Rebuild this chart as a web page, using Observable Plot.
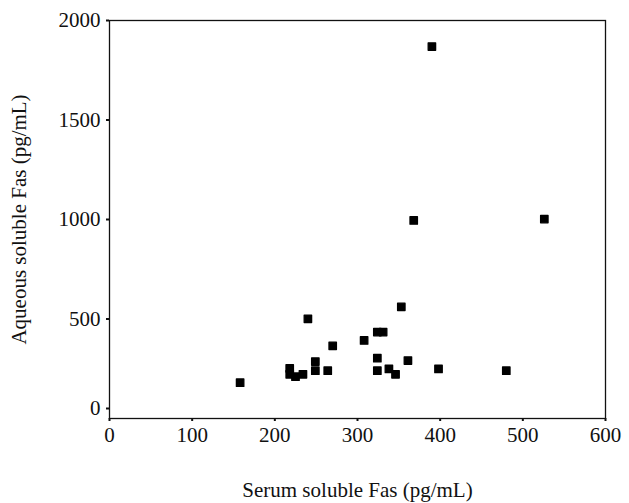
<!DOCTYPE html>
<html>
<head>
<meta charset="utf-8">
<script src="https://cdn.jsdelivr.net/npm/d3@7"></script>
<script src="https://cdn.jsdelivr.net/npm/@observablehq/plot@0.6"></script>
<style>
  html, body { margin: 0; padding: 0; background: #fff; }
  svg { display: block; }
</style>
</head>
<body>
<div id="chart"></div>
<script>
const serumFas = [158, 218, 218, 225, 234, 240, 249, 249, 264, 270, 308, 324, 331, 324, 324, 338, 346, 353, 361, 368, 390, 398, 480, 526];
const aqueousFas = [180, 252, 222, 210, 222, 501, 286, 240, 240, 365, 392, 434, 434, 303, 240, 249, 222, 561, 291, 995, 1869, 249, 240, 1002];
const xTicks = [0, 100, 200, 300, 400, 500, 600];
const yTicks = [0, 500, 1000, 1500, 2000];

const data = serumFas.map((x, i) => ({x, y: aqueousFas[i]}));
const font = "Liberation Serif, Times New Roman, serif";
const fmt = d => String(d);

const chart = Plot.plot({
  width: 629,
  height: 503,
  marginLeft: 109,
  marginRight: 24,
  marginTop: 20,
  marginBottom: 85,
  style: {fontFamily: font, fontSize: "21px", color: "#111", background: "#fff"},
  x: {domain: [0, 600]},
  y: {domain: [0, 2000]},
  marks: [
    Plot.frame({stroke: "#111", strokeWidth: 1.3}),
    Plot.axisX(xTicks, {tickSize: 3, tickPadding: 6, strokeWidth: 2, fontSize: 21, tickFormat: fmt, label: "Serum soluble Fas (pg/mL)", labelAnchor: "center", labelArrow: "none", labelOffset: 78}),
    Plot.axisY(yTicks.filter(d => d !== 0), {tickSize: 3, tickPadding: 6, strokeWidth: 2, fontSize: 21, tickFormat: fmt, label: null}),
    Plot.axisY([0], {tickSize: 3, tickPadding: 6, strokeWidth: 2, fontSize: 21, tickFormat: fmt, dy: -10, label: null}),
    Plot.axisY({ticks: [], label: "Aqueous soluble Fas (pg/mL)", labelAnchor: "center", labelArrow: "none", labelOffset: 98, fontSize: 21}),
    Plot.dot(data, {x: "x", y: "y", symbol: "square", r: 4.2, fill: "#000", stroke: "#000", strokeWidth: 1.3, strokeLinejoin: "round"})
  ]
});
document.getElementById("chart").appendChild(chart);
</script>
</body>
</html>
